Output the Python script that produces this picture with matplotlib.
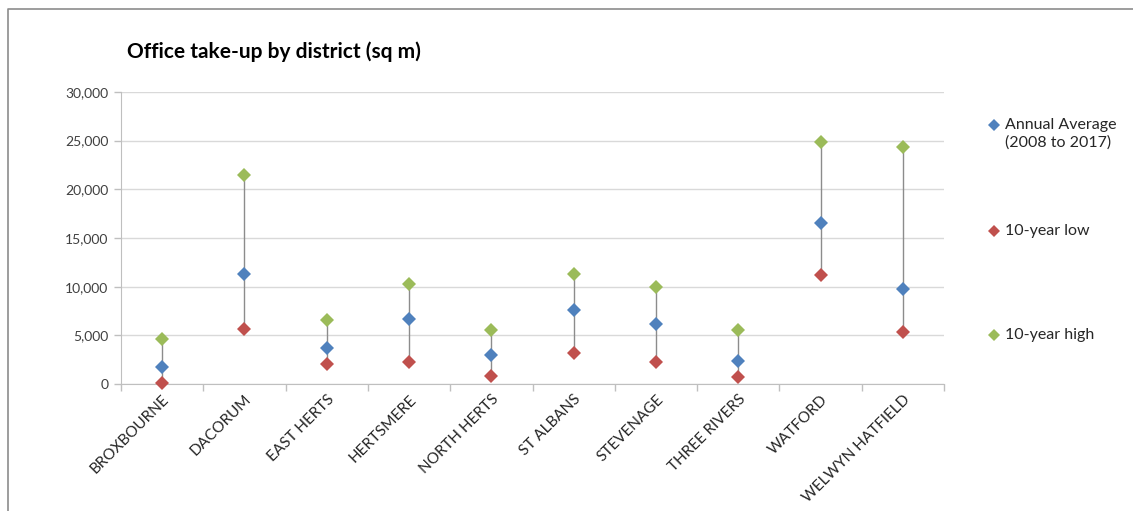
import numpy as np
import matplotlib.pyplot as plt
from matplotlib.lines import Line2D
from matplotlib.ticker import FuncFormatter, MultipleLocator

plt.rcParams['font.family'] = ['Lato', 'DejaVu Sans']

districts = ["BROXBOURNE", "DACORUM", "EAST HERTS", "HERTSMERE", "NORTH HERTS",
             "ST ALBANS", "STEVENAGE", "THREE RIVERS", "WATFORD", "WELWYN HATFIELD"]
annual_avg = [1750, 11350, 3650, 6700, 3000, 7650, 6150, 2400, 16500, 9750]
low_10yr = [80, 5700, 2050, 2250, 800, 3200, 2250, 700, 11250, 5350]
high_10yr = [4600, 21450, 6600, 10300, 5600, 11300, 9950, 5550, 24900, 24300]

blue = "#4F81BD"
red = "#C0504D"
green = "#9BBB59"
grid_c = "#D9D9D9"
axis_c = "#BFBFBF"
text_c = "#404040"

fig = plt.figure(figsize=(11.33, 5.11), dpi=100)
ax = fig.add_axes([0.1068, 0.2485, 0.7264, 0.5715])

x = np.arange(len(districts))

# high-low connectors
ax.vlines(x, low_10yr, high_10yr, color="#8C8C8C", lw=1.0, zorder=2)

series = [(annual_avg, blue), (low_10yr, red), (high_10yr, green)]
for vals, col in series:
    ax.plot(x, vals, ls="none", marker="D", ms=7.5, color=col,
            markeredgewidth=0, zorder=3, clip_on=False)

ax.set_xlim(-0.5, len(districts) - 0.5)
ax.set_ylim(0, 30000)
ax.yaxis.set_major_locator(MultipleLocator(5000))
ax.yaxis.set_major_formatter(FuncFormatter(lambda v, p: f"{int(v):,}"))
ax.grid(axis="y", color=grid_c, lw=1.0)
ax.set_axisbelow(True)

ax.set_xticks(x)
ax.set_xticklabels(districts, rotation=45, ha="right", rotation_mode="anchor",
                   fontsize=11, color="#262626")
ax.set_xticks(np.arange(-0.5, len(districts)), minor=True)
ax.tick_params(axis="x", which="major", length=0, pad=6)
ax.tick_params(axis="x", which="minor", length=5, color=axis_c, width=1)
ax.tick_params(axis="y", length=5, color=axis_c, width=1, labelsize=10,
               labelcolor=text_c, pad=4)

for side in ["top", "right"]:
    ax.spines[side].set_visible(False)
ax.spines["left"].set_color(axis_c)
ax.spines["bottom"].set_color(axis_c)

fig.text(0.112, 0.898, "Office take-up by district (sq m)", fontsize=15,
         fontweight="bold", color="black", va="center")

# legend on the right
legend_items = [("Annual Average\n(2008 to 2017)", blue, 125),
                ("10-year low", red, 231),
                ("10-year high", green, 335)]
for label, col, ypix in legend_items:
    yf = 1 - ypix / 511
    fig.add_artist(Line2D([994 / 1133], [yf], marker="D", ms=6, color=col,
                          markeredgewidth=0, transform=fig.transFigure))
    fig.text(1005 / 1133, yf + 0.013, label, fontsize=11.5, color="#262626",
             va="top", linespacing=1.3)

# outer frame: top and left edges
fig.add_artist(Line2D([8 / 1133, 8 / 1133, 1], [0, 1 - 9 / 511, 1 - 9 / 511],
                      color="#8C8C8C", lw=1.2, transform=fig.transFigure))

fig.savefig("out.png", dpi=100)
